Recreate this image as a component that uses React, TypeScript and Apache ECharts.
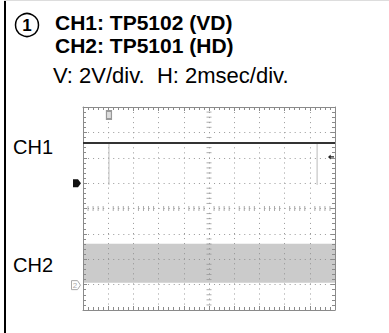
import React, { useEffect, useRef } from "react";
import * as echarts from "echarts";

// ---- data (in graticule divisions) ----
const xDivs = [0, 10]; // horizontal range: 10 div
const yDivs = [-4, 4]; // vertical range: 8 div
const ch1Level = 2.58;
const ch1Ground = 1.0;
const ch2Ground = -3.02;
const ch2Band = [-2.93, -1.39];
const triggerPos = 1.03;
const triggerLevel = 2.03;
const glitchX = [1.03, 9.29];
const glitchBottom = 0.93;
const minorX = [0.2, 0.4, 0.6, 0.8, 1.2, 1.4, 1.6, 1.8, 2.2, 2.4, 2.6, 2.8, 3.2, 3.4, 3.6, 3.8, 4.2, 4.4, 4.6, 4.8, 5.2, 5.4, 5.6, 5.8, 6.2, 6.4, 6.6, 6.8, 7.2, 7.4, 7.6, 7.8, 8.2, 8.4, 8.6, 8.8, 9.2, 9.4, 9.6, 9.8];
const minorY = [-3.8, -3.6, -3.4, -3.2, -2.8, -2.6, -2.4, -2.2, -1.8, -1.6, -1.4, -1.2, -0.8, -0.6, -0.4, -0.2, 0.2, 0.4, 0.6, 0.8, 1.2, 1.4, 1.6, 1.8, 2.2, 2.4, 2.6, 2.8, 3.2, 3.4, 3.6, 3.8];

const titleLines = ["CH1: TP5102 (VD)", "CH2: TP5101 (HD)"];
const scaleText = "V: 2V/div.  H: 2msec/div.";
const channelLabels = ["CH1", "CH2"];

const FONT = "'Liberation Sans', Arial, Helvetica, sans-serif";
const GRID = "#8a8a8a";

export default function App() {
  const ref = useRef<HTMLDivElement>(null);
  useEffect(() => {
    if (!ref.current) return;
    const chart = echarts.init(ref.current, undefined, { renderer: "svg" });
    const axisCommon = {
      type: "value" as const,
      axisLabel: { show: false },
      axisLine: { show: true, onZero: false, lineStyle: { color: GRID, width: 1 } },
      axisTick: { show: true, inside: true, length: 4, lineStyle: { color: GRID } },
      minorTick: { show: true, splitNumber: 5, length: 3, lineStyle: { color: GRID } },
    };
    const dotted = { show: true, lineStyle: { color: "#999", width: 1, type: [1, 4.04] as any } };
    chart.setOption({
      animation: false,
      grid: { left: 83, top: 107, width: 252, height: 203 },
      xAxis: [
        { ...axisCommon, position: "bottom", min: xDivs[0], max: xDivs[1], interval: 1, splitLine: dotted },
        { ...axisCommon, position: "top", min: xDivs[0], max: xDivs[1], interval: 1, splitLine: { show: false } },
      ],
      yAxis: [
        { ...axisCommon, position: "left", min: yDivs[0], max: yDivs[1], interval: 1, splitLine: dotted },
        { ...axisCommon, position: "right", min: yDivs[0], max: yDivs[1], interval: 1, splitLine: { show: false } },
      ],
      series: [
        {
          type: "scatter",
          symbol: "rect",
          symbolSize: [1, 5],
          itemStyle: { color: "#999" },
          data: minorX.map((x) => [x, 0]),
          silent: true,
          z: 3,
        },
        {
          type: "scatter",
          symbol: "rect",
          symbolSize: [5, 1],
          itemStyle: { color: "#999" },
          data: minorY.map((y) => [(xDivs[0] + xDivs[1]) / 2, y]),
          silent: true,
          z: 3,
        },
        {
          type: "line",
          symbol: "none",
          data: [[xDivs[0], ch2Band[0]], [xDivs[1], ch2Band[0]]],
          lineStyle: { width: 0, opacity: 0 },
          markArea: {
            silent: true,
            itemStyle: { color: "rgba(140,140,140,0.45)" },
            data: [[{ yAxis: ch2Band[0] }, { yAxis: ch2Band[1] }]],
          },
          markPoint: {
            silent: true,
            data: [
              {
                coord: [xDivs[0], ch2Ground],
                symbol: "path://M0,0 L6,0 L9,4 L6,8 L0,8 Z",
                symbolSize: [9, 9],
                symbolOffset: [-7, 0],
                itemStyle: { color: "#fff", borderColor: "#aaa", borderWidth: 1 },
                label: { show: true, formatter: "2", color: "#aaa", fontSize: 8, fontFamily: FONT, offset: [-1, 0] },
              },
            ],
          },
          z: 1,
        },
        ...glitchX.map((gx) => ({
          type: "line",
          symbol: "none",
          data: [[gx, ch1Level], [gx, glitchBottom]],
          lineStyle: { color: "#bbb", width: 1 },
          silent: true,
          z: 4,
        })),
        {
          type: "line",
          symbol: "none",
          data: [[xDivs[0], ch1Level], [xDivs[1], ch1Level]],
          lineStyle: { color: "#333", width: 2 },
          z: 5,
          markPoint: {
            silent: true,
            label: { show: false },
            data: [
              {
                coord: [xDivs[0], ch1Ground],
                symbol: "path://M0,0 L5,0 L8,4 L5,8 L0,8 Z",
                symbolSize: [8, 8],
                symbolOffset: [-6, 0],
                itemStyle: { color: "#111" },
              },
              {
                coord: [triggerPos, yDivs[1]],
                symbol: "rect",
                symbolSize: [5, 8],
                symbolOffset: [0, 8],
                itemStyle: { color: "#ddd", borderColor: "#999", borderWidth: 1.5 },
              },
              {
                coord: [xDivs[1], triggerLevel],
                symbol: "path://M0,4 L4,0 L4,3 L9,3 L9,5 L4,5 L4,8 Z",
                symbolSize: [6, 5],
                symbolOffset: [-4, 0],
                itemStyle: { color: "#222" },
              },
            ],
          },
        },
      ],
      graphic: [
        { type: "rect", shape: { x: 4, y: 0, width: 2, height: 333 }, style: { fill: "#000" } },
        { type: "rect", shape: { x: 4, y: 0, width: 385, height: 1 }, style: { fill: "#ddd" } },
        { type: "circle", shape: { cx: 27, cy: 25, r: 11.5 }, style: { fill: "none", stroke: "#000", lineWidth: 1.5 } },
        {
          type: "text",
          x: 27,
          y: 25.5,
          style: { text: "1", font: `bold 17px ${FONT}`, fill: "#000", align: "center", verticalAlign: "middle" },
        },
        {
          type: "text",
          x: 55,
          y: 22,
          style: { text: titleLines[0], font: `bold 21px ${FONT}`, fill: "#000", verticalAlign: "middle" },
        },
        {
          type: "text",
          x: 55,
          y: 45,
          style: { text: titleLines[1], font: `bold 21px ${FONT}`, fill: "#000", verticalAlign: "middle" },
        },
        {
          type: "text",
          x: 53,
          y: 75,
          style: { text: scaleText, font: `22px ${FONT}`, fill: "#000", verticalAlign: "middle" },
        },
        {
          type: "text",
          x: 13,
          y: 146.5,
          style: { text: channelLabels[0], font: `20px ${FONT}`, fill: "#000", verticalAlign: "middle" },
        },
        {
          type: "text",
          x: 13,
          y: 264.5,
          style: { text: channelLabels[1], font: `20px ${FONT}`, fill: "#000", verticalAlign: "middle" },
        },
      ],
    });
    return () => chart.dispose();
  }, []);
  return <div ref={ref} style={{ position: "absolute", left: 0, top: 0, width: 389, height: 333 }} />;
}
